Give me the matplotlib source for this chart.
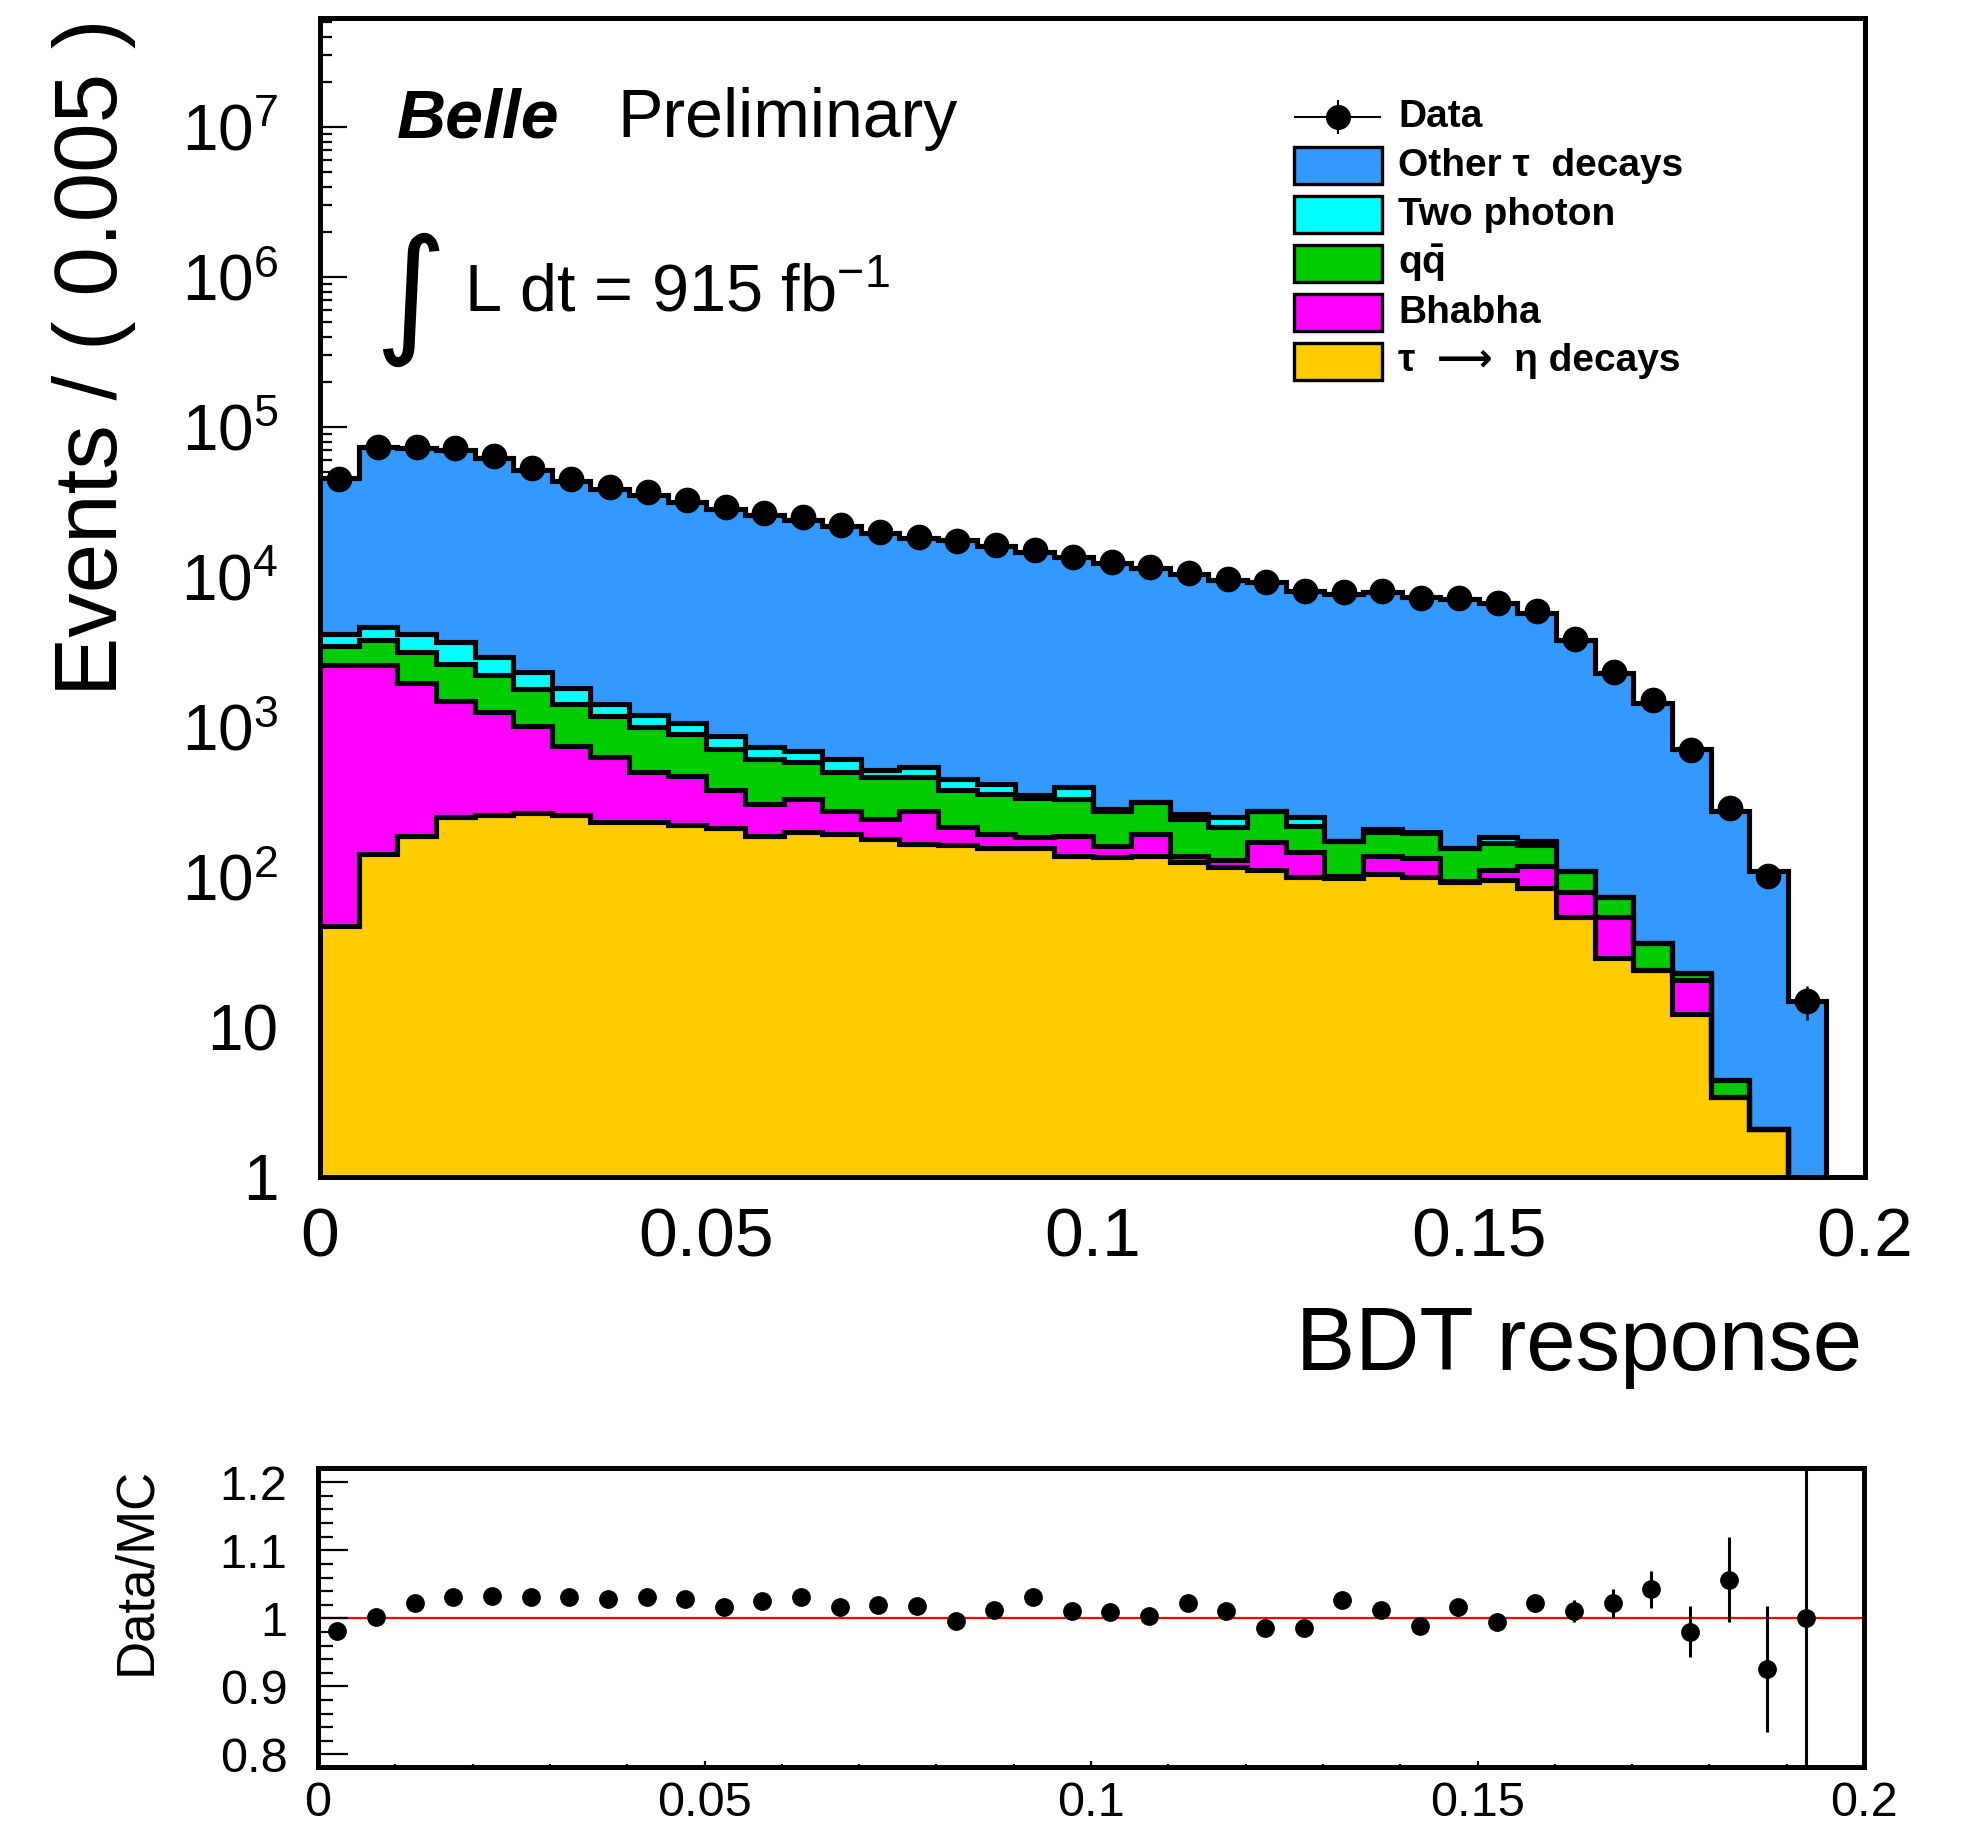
import numpy as np
import matplotlib
matplotlib.use('Agg')
import matplotlib.pyplot as plt
from matplotlib.ticker import MultipleLocator, LogLocator, FuncFormatter, NullFormatter
from matplotlib.patches import Rectangle
from matplotlib.lines import Line2D

plt.rcParams['font.family'] = ['Liberation Sans', 'DejaVu Sans']
plt.rcParams['mathtext.fontset'] = 'custom'
plt.rcParams['mathtext.rm'] = 'Liberation Sans'
plt.rcParams['mathtext.it'] = 'Liberation Sans:italic'
plt.rcParams['mathtext.bf'] = 'Liberation Sans:bold'

# 40 bins of 0.005 in BDT response
BIN_EDGES = np.round(np.arange(41) * 0.005, 4)

data = [45000, 74000, 74000, 73000, 64000, 53000, 44800, 39600, 36600, 32600,
        29100, 26700, 24950, 22300, 20000, 18600, 17500, 16300, 15200, 13650,
        12500, 11600, 10700, 9700, 9200, 8010, 7920, 8070, 7260, 7260,
        6720, 5900, 3850, 2330, 1510, 698, 290, 101, 15, 0]

other_tau = [41720, 69190, 68240, 67080, 59050, 49100, 41630, 37100, 34270, 30640,
             27740, 25290, 23480, 21320, 19110, 17730, 17120, 15690, 14390, 13100,
             12100, 11240, 10200, 9350, 9050, 7870, 7540, 7760, 7140, 6990,
             6570, 5600, 3700, 2206, 1412, 689, 270, 107, 15, 0]

two_photon = [680, 860, 1030, 1030, 690, 520, 400, 230, 206, 172,
              162, 119, 114, 114, 56, 72, 68, 60, 16, 65,
              7, 0, 19, 37, 0, 30, 1, 10, 5, 0,
              18, 9, 0, 0, 0, 0, 0, 0, 0, 0]

qqbar = [870, 1200, 1190, 1130, 970, 770, 670, 560, 491, 425,
         333, 305, 250, 221, 217, 189, 168, 163, 152, 143,
         115, 120, 105, 86, 107, 73, 72, 63, 62, 61,
         56, 46, 31, 20, 12.5, 2.5, 1.0, 0, 0, 0]

bhabha = [2553, 2457, 1761, 1247, 991, 754, 491, 399, 272, 250,
          169, 119, 131, 83, 65, 111, 50, 39, 27, 51,
          27, 57, 14, 14, 59, 47, 2, 33, 33, 1,
          17, 34, 25, 25, 0, 8.2, 0, 0, 0, 0]

tau_eta = [47, 143, 189, 253, 259, 266, 259, 231, 231, 223,
           211, 188, 200, 194, 179, 166, 164, 155, 157, 137,
           135, 137, 125, 116, 111, 100, 99, 104, 100, 93,
           95, 84, 54, 29, 24, 12.3, 3.4, 2.1, 0, 0]

# bottom of the stack first
layers = [tau_eta, bhabha, qqbar, two_photon, other_tau]
layer_colors = ['#ffcc00', '#ff00ff', '#00cc00', '#00ffff', '#3399ff']
legend_labels = ['Data', 'Other τ  decays', 'Two photon', r'$\mathbf{q\bar{q}}$',
                 'Bhabha', 'τ  ⟶  η decays']

W, H = 1966, 1822
fig = plt.figure(figsize=(W / 100, H / 100), dpi=100)
fig.patch.set_facecolor('white')

def fx(px):
    return px / W

def fy(py):
    return 1 - py / H

ax = fig.add_axes([fx(320), fy(1177), fx(1865) - fx(320), fy(18) - fy(1177)])
rx = fig.add_axes([fx(318), fy(1767), fx(1864) - fx(318), fy(1468) - fy(1767)])

cum = np.cumsum(np.array(layers, dtype=float), axis=0)
for level, col in zip(cum[::-1], layer_colors[::-1]):
    lv = np.where(level > 0, level, 1e-3)
    ax.stairs(lv, BIN_EDGES, fill=True, color=col, baseline=1e-3, zorder=2)
    ax.stairs(lv, BIN_EDGES, color='black', lw=3.7, baseline=None, zorder=3)

d = np.array(data, dtype=float)
centers = (BIN_EDGES[:-1] + BIN_EDGES[1:]) / 2
m = d > 0
ax.errorbar(centers[m], d[m], yerr=np.sqrt(d[m]), fmt='o', color='black',
            ms=17.5, elinewidth=1.8, capsize=0, zorder=5)

ax.set_yscale('log')
ax.set_xlim(0, 0.2)
ax.set_ylim(1, 5.33e7)
ax.xaxis.set_major_locator(MultipleLocator(0.05))
ax.xaxis.set_minor_locator(MultipleLocator(0.01))
ax.yaxis.set_major_locator(LogLocator(base=10, numticks=20))
ax.yaxis.set_minor_locator(LogLocator(base=10, subs=np.arange(2, 10), numticks=20))
ax.yaxis.set_minor_formatter(NullFormatter())

def log_label(v, pos):
    n = int(round(np.log10(v)))
    if n == 0:
        return '1'
    if n == 1:
        return '10'
    return r'$\mathdefault{10^{%d}}$' % n

ax.yaxis.set_major_formatter(FuncFormatter(log_label))
ax.xaxis.set_major_formatter(FuncFormatter(lambda v, p: f'{v:g}'))
ax.tick_params(which='both', direction='in', top=False, right=False, width=1.6)
ax.tick_params(axis='x', which='major', length=23, pad=21, labelsize=50)
ax.tick_params(axis='x', which='minor', length=10.8)
ax.tick_params(axis='y', which='major', length=19.4, pad=30, labelsize=46)
ax.tick_params(axis='y', which='minor', length=8.6)
for sp in ax.spines.values():
    sp.set_linewidth(3.6)
    sp.set_zorder(6)

# ratio panel
mc = cum[-1]
ok = (d > 0) & (mc > 0)
ratio = d[ok] / mc[ok]
rerr = np.sqrt(d[ok]) / mc[ok]
rx.axhline(1, color='#ff0000', lw=1.6, zorder=1)
rx.errorbar(centers[ok], ratio, yerr=rerr, fmt='o', color='black',
            ms=12.5, elinewidth=2.2, capsize=0, zorder=3)
rx.set_xlim(0, 0.2)
rx.set_ylim(0.7815, 1.221)
rx.xaxis.set_major_locator(MultipleLocator(0.05))
rx.xaxis.set_minor_locator(MultipleLocator(0.01))
rx.yaxis.set_major_locator(MultipleLocator(0.1))
rx.yaxis.set_minor_locator(MultipleLocator(0.02))
rx.xaxis.set_major_formatter(FuncFormatter(lambda v, p: f'{v:g}'))
rx.yaxis.set_major_formatter(FuncFormatter(lambda v, p: f'{v:g}'))
rx.tick_params(which='both', direction='in', top=False, right=False, width=1.6)
rx.tick_params(axis='x', which='major', length=4.5, pad=10, labelsize=35)
rx.tick_params(axis='x', which='minor', length=2.2)
rx.tick_params(axis='y', which='major', length=21.6, pad=22, labelsize=35)
rx.tick_params(axis='y', which='minor', length=10.8)
for sp in rx.spines.values():
    sp.set_linewidth(3.6)

# texts
fig.text(fx(397), fy(137), 'Belle', fontsize=49, fontweight='bold',
         fontstyle='italic', va='baseline')
fig.text(fx(617), fy(137), 'Preliminary', fontsize=49, va='baseline')
fig.text(fx(374), fy(338), '∫', fontsize=100, family='DejaVu Sans', va='baseline')
fig.text(fx(464), fy(312), r'L dt = 915 fb$^{\mathdefault{-1}}$', fontsize=48, va='baseline')
fig.text(fx(1862), fy(1370), 'BDT response', fontsize=64, ha='right', va='baseline')
fig.text(fx(117), fy(19), 'Events / ( 0.005 )', fontsize=64, rotation=90,
         rotation_mode='anchor', ha='right', va='baseline')
fig.text(fx(150), fy(1467), 'Data/MC', fontsize=38, rotation=90,
         rotation_mode='anchor', ha='right', va='baseline')

# legend drawn by hand, ROOT style
row_y = 117 + 48.9 * np.arange(len(legend_labels))
leg_colors = [None] + layer_colors[::-1]
for yc, lab, col in zip(row_y, legend_labels, leg_colors):
    if col is None:
        fig.add_artist(Line2D([fx(1295), fx(1380)], [fy(yc), fy(yc)], color='black', lw=1.5))
        fig.add_artist(Line2D([fx(1337.5), fx(1337.5)], [fy(yc - 16), fy(yc + 16)],
                              color='black', lw=1.5))
        fig.add_artist(Line2D([fx(1337.5)], [fy(yc)], marker='o', ms=17, color='black'))
    else:
        fig.add_artist(Rectangle((fx(1294), fy(yc + 18.5)), fx(88), 37 / H,
                                 transform=fig.transFigure, facecolor=col,
                                 edgecolor='black', lw=2.4))
    fig.text(fx(1398), fy(yc + 10), lab, fontsize=28, fontweight='bold', va='baseline')

fig.savefig('out.png', dpi=100, facecolor='white')
